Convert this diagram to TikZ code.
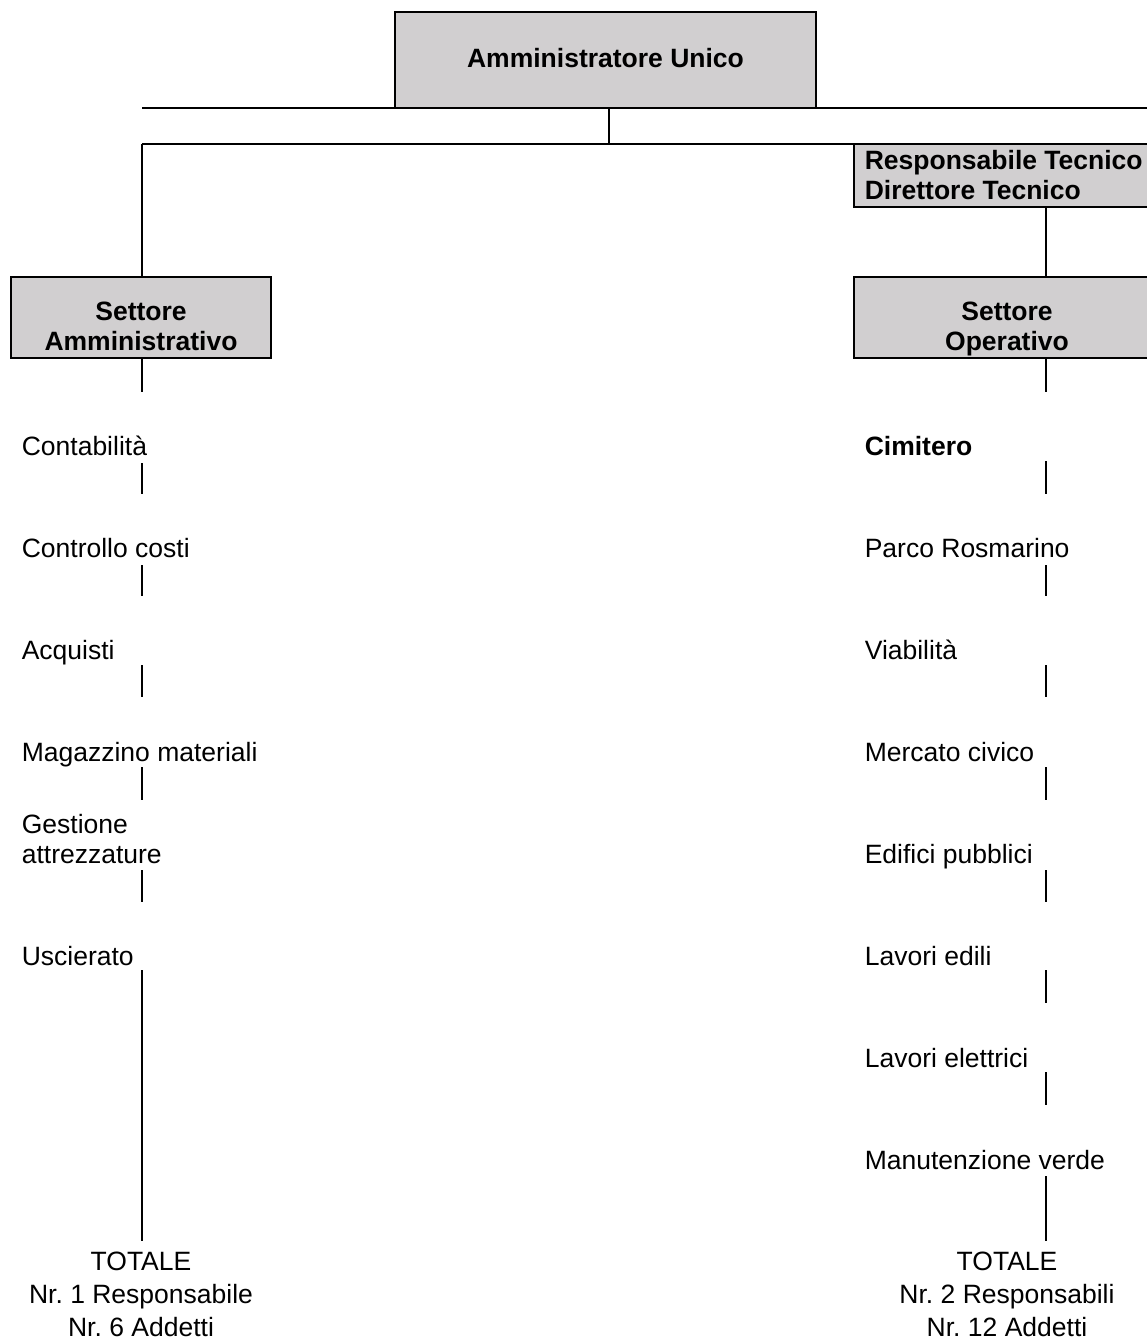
\documentclass[tikz,border=0pt]{standalone}
\usepackage{fontspec}
\setmainfont{Liberation Sans}
\definecolor{boxgray}{RGB}{209,207,208}
\frenchspacing
\begin{document}
\begin{tikzpicture}[x=1pt,y=-1pt, line width=1.6pt,
  box/.style={draw, fill=boxgray, inner sep=0pt},
  lbl/.style={anchor=base west, inner sep=0pt, align=left, font=\fontsize{26.5}{30}\selectfont},
  boldtxt/.style={inner sep=0pt, align=center, anchor=base, font=\fontsize{26.5}{30}\selectfont\bfseries},
  tot/.style={inner sep=0pt, align=center, anchor=base, font=\fontsize{26.5}{33}\selectfont}]
\clip (0,0) rectangle (1147,1341);
% boxes
\node[box, minimum width=421pt, minimum height=96pt] (au) at (605.5,60) {};
\node[boldtxt] (aut) at (605.5,67) {Amministratore Unico};
\node[box, minimum width=260pt, minimum height=81pt] (sa) at (141,317.5) {};
\node[boldtxt] (sat) at (141,350) {Settore\\Amministrativo};
\node[box, minimum width=306pt, minimum height=63pt] (rt) at (1007,175.5) {};
\node[boldtxt, anchor=base west, align=left] (rtt) at (864,199) {Responsabile Tecnico\\Direttore Tecnico};
\node[box, minimum width=306pt, minimum height=81pt] (so) at (1007,317.5) {};
\node[boldtxt] (sot) at (1007,350) {Settore\\Operativo};
% connector coordinates
\coordinate (hl) at (142,108);
\coordinate (hr) at (1147,108);
\coordinate (j1) at (609,108);
\coordinate (j2) at (609,144);
\coordinate (bl) at (142,144);
\coordinate (br) at (1147,144);
\coordinate (cl) at (142,0);
\coordinate (cr) at (1046,0);
\draw (hl) -- (hr);
\draw (j1) -- (j2);
\draw (bl) -- (br);
\draw (bl) -- (sa.north -| cl);
\draw (rt.south -| cr) -- (so.north -| cr);
% column segments
\foreach \a/\b in {358/392,463/494,565/596,665/697,767/800,870/902,970/1241}
  \draw (142,\a) -- (142,\b);
\foreach \a/\b in {358/392,461/494,565/596,665/697,767/800,870/902,970/1003,1072/1105,1176/1241}
  \draw (1046,\a) -- (1046,\b);
\node[lbl] (l1) at (21,455.5) {Contabilità};
\node[lbl] (l2) at (21,557.5) {Controllo costi};
\node[lbl] (l3) at (21,659.5) {Acquisti};
\node[lbl] (l4) at (21,761.5) {Magazzino materiali};
\node[lbl] (l5) at (21,863.5) {Gestione\\attrezzature};
\node[lbl] (l6) at (21,965.5) {Uscierato};
\node[lbl, font=\fontsize{26.5}{30}\selectfont\bfseries] (r1) at (864,455.5) {Cimitero};
\node[lbl] (r2) at (864,557.5) {Parco Rosmarino};
\node[lbl] (r3) at (864,659.5) {Viabilità};
\node[lbl] (r4) at (864,761.5) {Mercato civico};
\node[lbl] (r5) at (864,863.5) {Edifici pubblici};
\node[lbl] (r6) at (864,965.5) {Lavori edili};
\node[lbl] (r7) at (864,1067.5) {Lavori elettrici};
\node[lbl] (r8) at (864,1169.5) {Manutenzione verde};
\node[tot] (tl) at (141,1336) {TOTALE\\Nr. 1 Responsabile\\Nr. 6 Addetti};
\node[tot] (tr) at (1007,1336) {TOTALE\\Nr. 2 Responsabili\\Nr. 12 Addetti};
\end{tikzpicture}
\end{document}
